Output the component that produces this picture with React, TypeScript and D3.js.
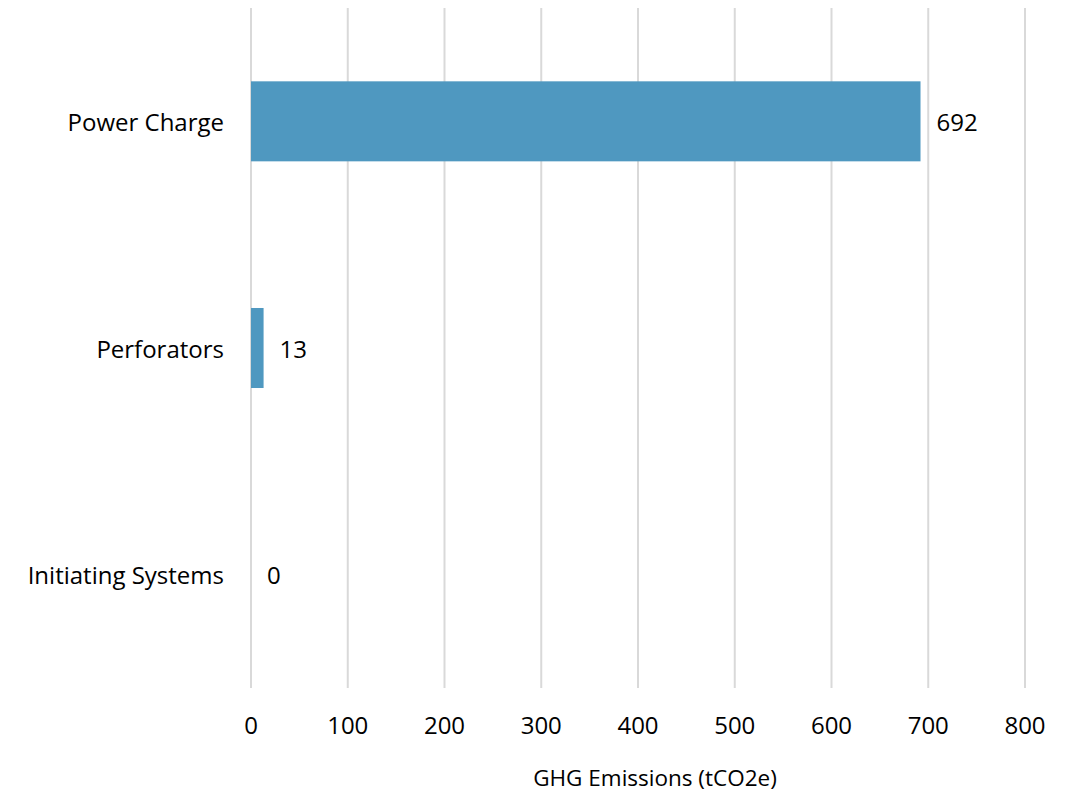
import React from "react";
import * as d3 from "d3";

const categories = ["Power Charge", "Perforators", "Initiating Systems"];
const values = [692, 13, 0];
const xTicks = [0, 100, 200, 300, 400, 500, 600, 700, 800];
const axisTitle = "GHG Emissions (tCO2e)";

const W = 1074;
const H = 793;
const FONT = "'Open Sans', sans-serif";
const FS = 24;
const TITLE_FS = 22.5;

export default function App() {
  const x = d3.scaleLinear().domain([0, 800]).range([251, 1025]);
  const y = d3
    .scaleBand<string>()
    .domain(categories)
    .range([8, 688])
    .paddingInner(0.647)
    .paddingOuter(0.3235);

  return (
    <svg
      width={W}
      height={H}
      style={{ position: "absolute", left: 0, top: 0, background: "#fff" }}
      fontFamily={FONT}
    >
      {xTicks.map((t) => (
        <g key={t}>
          <line
            x1={x(t)}
            x2={x(t)}
            y1={8}
            y2={688}
            stroke="#d9d9d9"
            strokeWidth={2}
          />
          <text
            x={x(t)}
            y={724}
            textAnchor="middle"
            dominantBaseline="central"
            fontSize={FS}
            fill="#000"
          >
            {t}
          </text>
        </g>
      ))}
      {categories.map((c, i) => {
        const yc = (y(c) ?? 0) + y.bandwidth() / 2;
        return (
          <g key={c}>
            <rect
              x={x(0)}
              y={y(c)}
              width={x(values[i]) - x(0)}
              height={y.bandwidth()}
              fill="#4f98c0"
            />
            <text
              x={224}
              y={yc}
              textAnchor="end"
              dominantBaseline="central"
              fontSize={FS}
              fill="#000"
            >
              {c}
            </text>
            <text
              x={x(values[i]) + 16}
              y={yc}
              dominantBaseline="central"
              fontSize={FS}
              fill="#000"
            >
              {values[i]}
            </text>
          </g>
        );
      })}
      <text
        x={655}
        y={777}
        textAnchor="middle"
        dominantBaseline="central"
        fontSize={TITLE_FS}
        fill="#000"
      >
        {axisTitle}
      </text>
    </svg>
  );
}
